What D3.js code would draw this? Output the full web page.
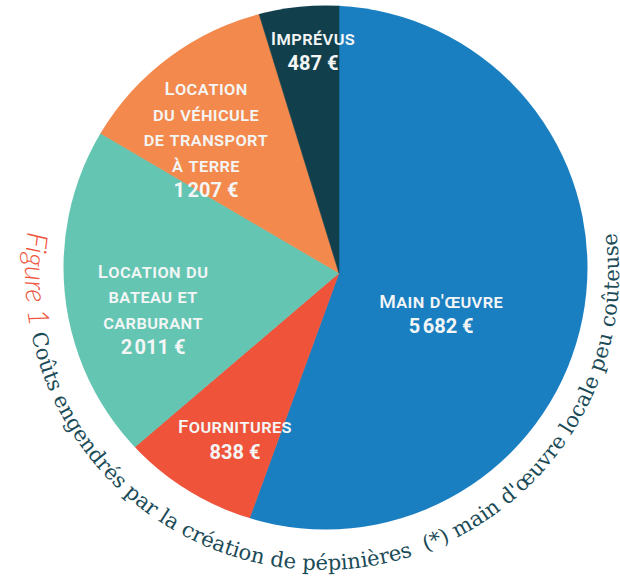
<!DOCTYPE html>
<html><head><meta charset="utf-8">
<script src="https://cdn.jsdelivr.net/npm/d3@7"></script>
<style>
html,body{margin:0;padding:0;background:#fff;}
svg{display:block;}
</style></head>
<body>
<svg id="chart" width="620" height="578"></svg>
<script>
// ---- data ----
const categories = ["Main d'œuvre", "Fournitures", "Location du bateau et carburant", "Location du véhicule de transport à terre", "Imprévus"];
const values = [5682, 838, 2011, 1207, 487];
const labelLines = [["Main d'œuvre"], ["Fournitures"], ["Location du", "bateau et", "carburant"], ["Location", "du véhicule", "de transport", "à terre"], ["Imprévus"]];
const captionTitle = "Figure 1";
const captionText = "Coûts engendrés par la création de pépinières\u00a0\u00a0(*) main d'œuvre locale peu coûteuse";

// ---- style / layout ----
const colors = ["#1a7fc1", "#ef543b", "#64c5b2", "#f3894c", "#11404c"];
const apex = [339, 273];
const disc = {cx: 325.5, cy: 267.5, r: 262};
// label anchor (first baseline) in polar coords around the apex: [angle deg clockwise from top, radius]
const labelPolar = [[108.9, 108], [213, 191], [268.5, 186], [323.2, 222], [353.5, 229.5]];
const lineGap = 25.5;
const capCircle = {cx: 322, cy: 273, r: 297, start: 188, end: -12};

const fr = d3.formatLocale({decimal: ",", thousands: "\u202f", grouping: [3], currency: ["", "\u00a0€"]});
const fmt = fr.format("$,d");

const svg = d3.select("#chart");
const defs = svg.append("defs");
defs.append("clipPath").attr("id", "discClip")
  .append("circle").attr("cx", disc.cx).attr("cy", disc.cy).attr("r", disc.r);

const pie = d3.pie().sort(null).value(d => d)(values);
const arc = d3.arc().innerRadius(0).outerRadius(450);

const pg = svg.append("g").attr("clip-path", "url(#discClip)")
  .append("g").attr("transform", `translate(${apex[0]},${apex[1]})`);
pg.selectAll("path").data(pie).join("path")
  .attr("d", arc)
  .attr("fill", (d, i) => colors[i])
  .attr("stroke", (d, i) => colors[i])
  .attr("stroke-width", 0.6);

// labels
const lg = svg.append("g");
pie.forEach((d, i) => {
  const [ang, rad] = labelPolar[i];
  const a = ang * Math.PI / 180;
  const x = apex[0] + rad * Math.sin(a);
  const y = apex[1] - rad * Math.cos(a);
  const t = lg.append("text").attr("text-anchor", "middle").attr("fill", "#f4f6f6")
    .attr("font-family", "Roboto, 'Noto Sans', sans-serif");
  labelLines[i].forEach((line, k) => {
    t.append("tspan").attr("x", x).attr("y", y + k * lineGap)
      .attr("font-size", 19).attr("font-weight", 500)
      .style("font-variant", "small-caps").attr("letter-spacing", 0.4)
      .text(line);
  });
  t.append("tspan").attr("x", x).attr("y", y + labelLines[i].length * lineGap)
    .attr("font-size", 20).attr("font-weight", 700)
    .text(fmt(values[i]));
});

// caption along the circle
const p = d3.path();
const c = capCircle;
const s = c.start * Math.PI / 180, e = c.end * Math.PI / 180;
p.moveTo(c.cx + c.r * Math.cos(s), c.cy + c.r * Math.sin(s));
p.arc(c.cx, c.cy, c.r, s, e, true);
defs.append("path").attr("id", "capPath").attr("d", p.toString());

// measure to fit
function measure(txt, fam, size, weight, style) {
  const m = svg.append("text").attr("font-family", fam).attr("font-size", size)
    .attr("font-weight", weight).attr("font-style", style).style("white-space", "pre").text(txt);
  const w = m.node().getComputedTextLength(); m.remove(); return w;
}
const figFam = "Lato, 'Open Sans', sans-serif";
const serFam = "'DejaVu Serif', 'Liberation Serif', serif";
const figW = measure(captionTitle, figFam, 27, 300, "italic");
const figSize = 27 * 96 / figW;
const deg = Math.PI / 180;
const serTarget = (168 - (-7.8)) * deg * c.r;
const serW = measure(captionText, serFam, 20, 400, "normal");
const serSize = 20 * serTarget / serW;

const ct = svg.append("text").style("white-space", "pre");
const tp = ct.append("textPath").attr("href", "#capPath").attr("startOffset", 0);
tp.append("tspan").attr("font-family", figFam).attr("font-weight", 300).attr("font-style", "italic")
  .attr("font-size", figSize).attr("fill", "#ef543b").text(captionTitle);
tp.append("tspan").attr("font-family", serFam).attr("font-size", serSize).attr("fill", "#1b4b57")
  .text(" " + captionText);
</script>
</body></html>
